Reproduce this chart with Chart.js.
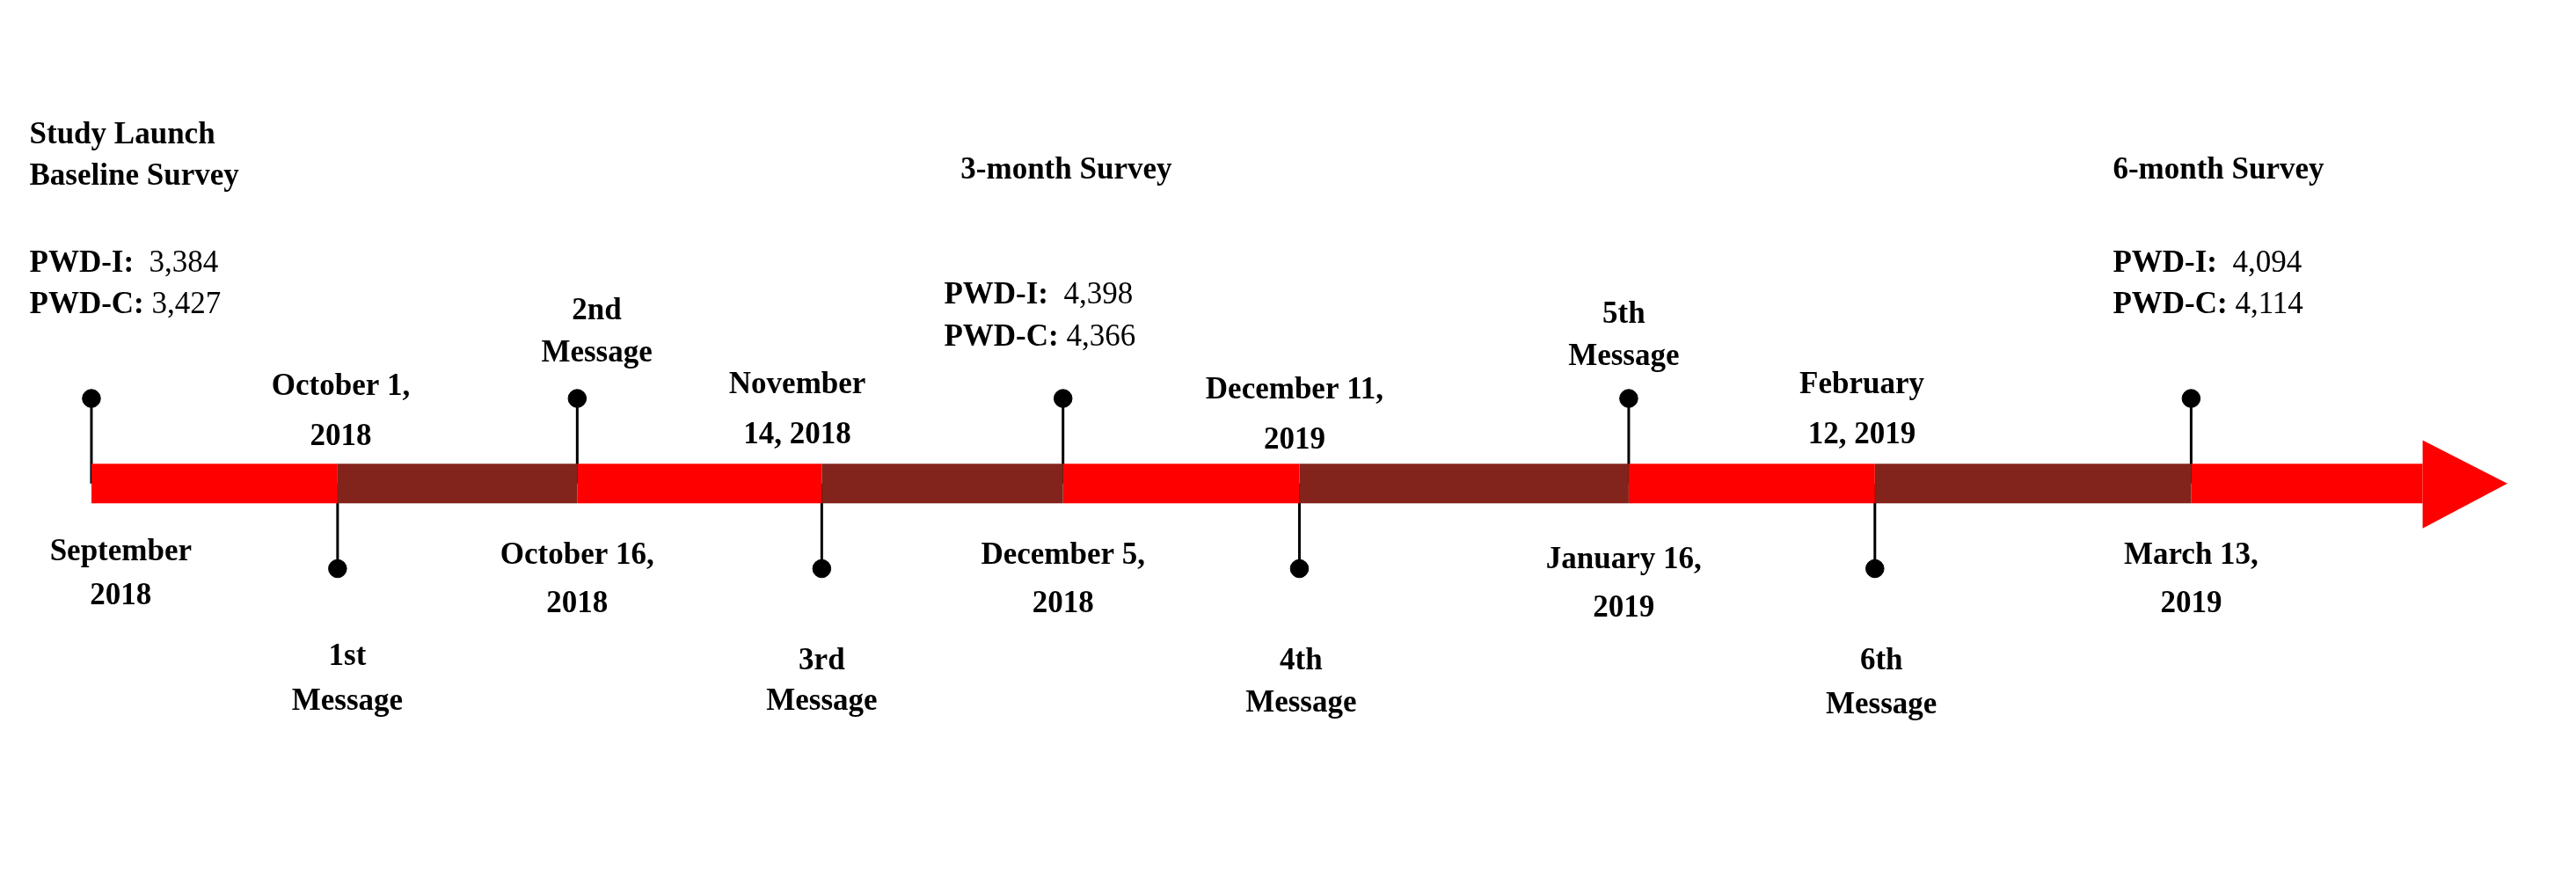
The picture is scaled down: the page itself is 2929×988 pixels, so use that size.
<!DOCTYPE html>
<html><head><meta charset="utf-8">
<script src="https://cdn.jsdelivr.net/npm/chart.js@4"></script>
<style>html,body{margin:0;padding:0;background:#fff}#w{width:2929px;height:988px}</style>
</head><body><div id="w"><canvas id="c"></canvas></div>
<script>
// Milestone positions along the timeline (reference units, 0..1568 wide)
const milestoneX = [50, 201, 348, 498, 646, 791, 993, 1144, 1338];
const milestoneSide = ['up','down','up','down','up','down','up','down','up'];
const segmentColors = ['#FF0000','#82231C','#FF0000','#82231C','#FF0000','#82231C','#FF0000','#82231C','#FF0000'];
const barEnd = 1480;
const arrowHead = [[1480,268],[1532,295],[1480,323]];
const barY = 295, upY = 242, downY = 348;
// text labels: [text, x, y, align, boldPart]
const labels = [
 ['Study Launch',12,78,'left'],['Baseline Survey',12,104,'left'],
 ['PWD-I:  |3,384',12,158,'left'],['PWD-C: |3,427',12,184,'left'],
 ['3-month Survey',648,100,'center'],
 ['PWD-I:  |4,398',573,178,'left'],['PWD-C: |4,366',573,204,'left'],
 ['6-month Survey',1290,100,'left'],
 ['PWD-I:  |4,094',1290,158,'left'],['PWD-C: |4,114',1290,184,'left'],
 ['2nd',360,188,'center'],['Message',360,214,'center'],
 ['October 1,',203,235,'center'],['2018',203,266,'center'],
 ['November',483,234,'center'],['14, 2018',483,265,'center'],
 ['December 11,',788,237,'center'],['2019',788,268,'center'],
 ['5th',990,190,'center'],['Message',990,216,'center'],
 ['February',1136,234,'center'],['12, 2019',1136,265,'center'],
 ['September',68,338,'center'],['2018',68,365,'center'],
 ['1st',207,403,'center'],['Message',207,431,'center'],
 ['October 16,',348,340,'center'],['2018',348,370,'center'],
 ['3rd',498,406,'center'],['Message',498,431,'center'],
 ['December 5,',646,340,'center'],['2018',646,370,'center'],
 ['4th',792,406,'center'],['Message',792,432,'center'],
 ['January 16,',990,343,'center'],['2019',990,373,'center'],
 ['6th',1148,406,'center'],['Message',1148,433,'center'],
 ['March 13,',1338,340,'center'],['2019',1338,370,'center']
];
const S = 2929/1568;
const ends = milestoneX.concat([barEnd]);
const datasets = [];
for (let i=0;i<milestoneX.length;i++){
  datasets.push({type:'line',data:[{x:ends[i],y:barY},{x:ends[i+1],y:barY}],borderColor:segmentColors[i],borderWidth:24*S,borderCapStyle:'butt',pointRadius:0});
}
milestoneX.forEach((x,i)=>{
  const ty = milestoneSide[i]==='up'?upY:downY;
  datasets.push({type:'line',data:[{x:x,y:barY},{x:x,y:ty}],borderColor:'#000',borderWidth:1.6*S,pointRadius:0});
});
datasets.push({type:'scatter',data:milestoneX.map((x,i)=>({x:x,y:milestoneSide[i]==='up'?upY:downY})),pointStyle:'circle',pointRadius:5.5*S,backgroundColor:'#000',borderColor:'#000'});
const overlay = {id:'overlay',afterDatasetsDraw(chart){
  const ctx=chart.ctx, xs=chart.scales.x, ys=chart.scales.y;
  ctx.save();
  ctx.fillStyle='#FF0000';ctx.beginPath();
  arrowHead.forEach((p,i)=>{const px=xs.getPixelForValue(p[0]),py=ys.getPixelForValue(p[1]); i?ctx.lineTo(px,py):ctx.moveTo(px,py);});
  ctx.closePath();ctx.fill();
  ctx.fillStyle='#000';ctx.textBaseline='middle';
  const fs=Math.round(18.5*S);
  labels.forEach(l=>{
    const parts=l[0].split('|');
    const px=xs.getPixelForValue(l[1]),py=ys.getPixelForValue(l[2]);
    ctx.font='bold '+fs+'px "Liberation Serif"';
    const w1=ctx.measureText(parts[0]).width;
    let w2=0;
    if(parts[1]){ctx.font=fs+'px "Liberation Serif"';w2=ctx.measureText(parts[1]).width;}
    let x0 = l[3]==='center'? px-(w1+w2)/2 : px;
    ctx.textAlign='left';
    ctx.font='bold '+fs+'px "Liberation Serif"';ctx.fillText(parts[0],x0,py);
    if(parts[1]){ctx.font=fs+'px "Liberation Serif"';ctx.fillText(parts[1],x0+w1,py);}
  });
  ctx.restore();
}};
new Chart(document.getElementById('c'),{
  data:{datasets:datasets},
  options:{responsive:true,maintainAspectRatio:false,animation:false,
    layout:{padding:0},
    plugins:{legend:{display:false},tooltip:{enabled:false}},
    scales:{x:{type:'linear',min:0,max:1568,display:false},
            y:{type:'linear',min:0,max:988/S,reverse:true,display:false}}},
  plugins:[overlay]
});
</script></body></html>
